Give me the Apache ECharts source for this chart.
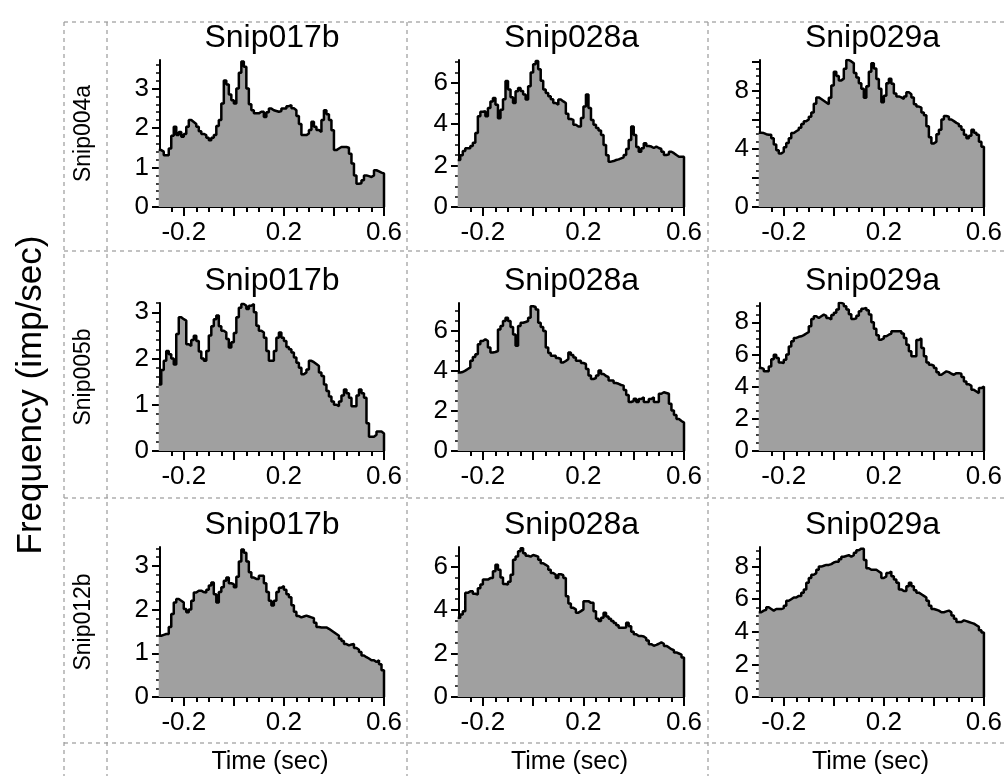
<!DOCTYPE html>
<html>
<head>
<meta charset="utf-8">
<script src="https://cdn.jsdelivr.net/npm/echarts@6/dist/echarts.min.js"></script>
<style>
  html, body { margin: 0; padding: 0; background: #fff; }
  #chart { width: 1005px; height: 776px; }
</style>
</head>
<body>
<div id="chart"></div>
<script>
// Peri-stimulus firing-rate histograms: rows = reference unit, columns = target unit.
const rowUnits = ['Snip004a', 'Snip005b', 'Snip012b'];
const colUnits = ['Snip017b', 'Snip028a', 'Snip029a'];

// Histogram bins (sec): left edge of first bin and bin width
const binStart = -0.3;
const binWidth = 0.01;
const timeMin = -0.295;
const timeMax = 0.6;

// Time axis ticks
const timeLabelTicks = [-0.2, 0.2, 0.6];
const timeMajorTicks = [-0.2, 0, 0.2, 0.4, 0.6];
const timeMinorTicks = [-0.25, -0.15, -0.1, -0.05, 0.05, 0.1, 0.15, 0.25, 0.3, 0.35, 0.45, 0.5, 0.55];

// Firing rates (imp/sec), one value per bin
const rate004a_017b = [1.44,1.4,1.31,1.31,1.48,1.8,2.03,1.82,1.9,1.78,1.85,2.03,2.2,2.15,2.1,2.03,1.92,1.85,1.82,1.75,1.69,1.75,1.82,2.05,2.2,2.62,3.2,3.1,2.85,2.7,2.62,3.0,3.4,3.68,3.55,3.0,2.6,2.45,2.37,2.37,2.41,2.41,2.28,2.4,2.49,2.45,2.43,2.41,2.43,2.49,2.49,2.55,2.58,2.5,2.45,2.3,2.1,1.82,1.82,1.86,1.95,2.16,2.03,1.95,1.9,2.2,2.45,2.35,2.2,1.94,1.44,1.48,1.52,1.52,1.52,1.5,1.35,1.1,0.8,0.59,0.6,0.68,0.8,0.78,0.76,0.8,0.93,0.9,0.87,0.85];
const rate004a_028a = [2.27,2.5,2.7,2.84,2.84,2.95,3.1,3.57,4.38,4.6,4.62,4.38,4.78,5.1,5.27,4.94,4.29,4.7,5.2,6.08,5.67,5.3,5.02,5.59,5.75,5.6,5.43,5.19,5.83,6.5,6.9,7.05,6.65,6.1,5.67,5.51,5.35,5.2,5.02,4.94,5.19,5.1,5.02,4.5,4.25,4.21,3.97,3.89,3.89,4.3,4.86,5.43,4.78,4.2,3.97,3.81,3.7,3.48,3.0,2.5,2.19,2.22,2.27,2.3,2.35,2.4,2.51,2.8,3.24,3.89,3.48,2.9,2.67,2.84,3.08,2.95,2.92,2.85,2.92,2.85,2.8,2.67,2.51,2.55,2.67,2.6,2.51,2.43,2.43,2.43];
const rate004a_029a = [5.1,5.08,5.0,4.96,4.96,4.73,4.3,3.9,3.67,3.8,4.1,4.4,4.73,5.08,5.2,5.31,5.45,5.7,5.9,6.01,6.2,6.5,7.1,7.53,7.42,7.3,7.18,7.06,7.5,8.35,9.29,9.0,8.7,8.82,9.5,10.1,10.0,9.87,9.2,8.9,8.5,8.12,7.5,8.3,9.3,9.87,9.52,8.8,8.12,7.2,7.65,8.5,8.82,8.47,7.8,7.6,7.53,7.42,7.6,7.88,7.75,7.53,7.06,6.9,6.83,6.5,6.3,5.54,4.8,4.37,4.49,5.0,5.31,6.01,6.25,6.2,6.01,5.9,5.78,5.7,5.54,5.3,4.96,4.73,4.9,5.31,5.1,4.96,4.49,4.14];
const rate005b_017b = [1.44,1.75,1.95,2.16,2.09,2.0,1.87,2.53,2.89,2.85,2.82,2.31,2.27,2.4,2.49,2.38,2.15,2.0,1.95,2.16,2.5,2.7,2.85,2.93,2.7,2.6,2.56,2.42,2.24,2.35,2.55,2.89,3.1,3.18,3.14,3.07,3.14,3.18,3.0,2.71,2.6,2.56,2.45,2.16,1.95,1.95,2.16,2.45,2.56,2.45,2.38,2.25,2.2,2.13,2.02,1.91,1.8,1.66,1.7,1.76,1.95,1.92,1.88,1.84,1.7,1.62,1.44,1.3,1.18,1.07,1.0,0.97,1.07,1.2,1.33,1.25,1.15,0.97,0.97,1.2,1.33,1.25,1.15,0.6,0.31,0.31,0.35,0.42,0.42,0.38];
const rate005b_028a = [3.93,3.95,4.02,4.1,4.18,4.51,4.7,4.84,5.34,5.5,5.59,5.5,5.17,4.93,4.95,5.0,6.08,6.25,6.5,6.66,6.5,6.2,5.83,5.26,6.25,6.41,6.45,6.5,6.66,7.24,7.2,7.07,6.41,6.2,6.0,5.17,4.9,4.76,4.76,4.65,4.6,4.43,4.5,4.6,4.93,4.8,4.68,4.51,4.51,4.4,4.35,4.1,3.77,3.6,3.65,3.77,4.02,3.85,3.75,3.69,3.52,3.52,3.4,3.36,3.3,3.27,3.05,2.8,2.45,2.5,2.61,2.45,2.6,2.69,2.45,2.45,2.6,2.69,2.45,2.45,2.86,2.94,2.9,2.86,2.36,2.03,1.8,1.6,1.5,1.42];
const rate005b_029a = [5.16,5.1,4.95,4.95,5.26,5.7,5.99,5.78,5.5,5.47,5.68,6.0,6.5,6.82,7.03,7.1,7.13,7.2,7.3,7.4,7.75,8.2,8.38,8.27,8.38,8.48,8.4,8.27,8.17,8.45,8.6,8.8,9.21,9.15,9.0,8.8,8.5,8.2,8.25,8.4,8.69,8.85,8.9,8.75,8.48,8.0,7.6,7.2,6.92,7.0,7.13,7.23,7.3,7.44,7.44,7.44,7.44,7.3,7.03,6.6,6.2,5.89,5.89,6.9,7.0,6.4,5.89,5.5,5.36,5.3,5.16,4.9,4.74,4.85,4.95,4.9,4.8,4.74,4.84,4.84,4.8,4.6,4.32,4.15,4.05,3.8,3.7,3.6,3.91,4.01];
const rate012b_017b = [1.4,1.42,1.44,1.44,1.6,1.9,2.16,2.24,2.2,2.16,2.01,1.94,2.0,2.2,2.39,2.43,2.43,2.4,2.39,2.45,2.55,2.62,2.35,2.16,2.4,2.51,2.66,2.73,2.6,2.58,2.51,2.75,3.1,3.37,3.3,3.1,2.85,2.73,2.7,2.7,2.77,2.77,2.6,2.4,2.2,2.09,2.2,2.4,2.5,2.54,2.45,2.35,2.28,2.1,1.95,1.85,1.82,1.84,1.86,1.84,1.82,1.8,1.7,1.6,1.59,1.59,1.59,1.56,1.52,1.48,1.44,1.4,1.33,1.28,1.21,1.18,1.2,1.21,1.12,1.08,1.03,0.95,0.91,0.88,0.84,0.84,0.8,0.84,0.75,0.61];
const rate012b_028a = [3.65,3.8,3.95,4.79,4.86,4.86,4.75,4.71,5.0,5.17,5.4,5.4,5.47,5.47,5.78,6.08,5.85,5.5,5.2,5.17,5.3,5.62,6.31,6.46,6.7,6.84,6.61,6.5,6.46,6.53,6.5,6.46,6.31,6.15,6.08,6.0,5.85,5.7,5.62,5.47,5.65,5.6,5.47,4.64,4.3,4.1,4.03,3.88,3.95,4.03,4.41,4.41,4.33,4.33,3.95,3.6,3.5,3.65,3.88,3.7,3.6,3.5,3.4,3.3,3.19,3.19,3.2,3.42,3.25,3.0,2.89,2.81,2.81,2.78,2.7,2.6,2.43,2.36,2.4,2.45,2.51,2.45,2.35,2.28,2.2,2.15,2.05,2.0,1.95,1.82];
const rate012b_029a = [5.2,5.3,5.35,5.5,5.4,5.3,5.4,5.4,5.4,5.45,5.6,5.9,6.0,6.1,6.1,6.2,6.2,6.4,6.6,7.0,7.3,7.5,7.6,7.8,8.0,8.05,8.1,8.1,8.15,8.25,8.3,8.3,8.45,8.6,8.65,8.7,8.6,8.7,8.85,9.0,9.1,9.1,8.4,7.9,7.8,7.8,7.8,7.7,7.6,7.3,7.4,7.6,7.7,7.4,7.2,7.0,6.6,6.5,6.5,6.8,7.0,6.8,6.55,6.4,6.3,6.2,6.1,5.9,5.6,5.4,5.35,5.3,5.2,5.2,5.25,5.3,5.2,5.0,4.8,4.6,4.6,4.7,4.65,4.6,4.55,4.5,4.4,4.3,4.1,3.95];

const rates = [
  [rate004a_017b, rate004a_028a, rate004a_029a],
  [rate005b_017b, rate005b_028a, rate005b_029a],
  [rate012b_017b, rate012b_028a, rate012b_029a]
];

// Rate axis: top of axis, labelled ticks, major and minor tick steps
const rateMax = [[3.72, 7.1, 10.1], [3.2, 7.4, 9.2], [3.43, 6.9, 9.2]];
const rateLabels = [
  [[0, 1, 2, 3], [0, 2, 4, 6], [0, 4, 8]],
  [[0, 1, 2, 3], [0, 2, 4, 6], [0, 2, 4, 6, 8]],
  [[0, 1, 2, 3], [0, 2, 4, 6], [0, 2, 4, 6, 8]]
];
const rateMajorStep = [[1, 2, 2], [1, 2, 2], [1, 2, 2]];
const rateMinorStep = [[0.2, 0.5, 0.5], [0.2, 0.5, 0.5], [0.2, 0.5, 0.5]];

// Panel layout (px)
const colLeft = [160, 459, 760];
const colWidth = [224, 225, 225];
const rowTop = [60, 303, 547];
const rowHeight = [147, 148, 150];

const FONT = "'Liberation Sans', Arial, sans-serif";
const INK = '#000';

function steps(max, step) {
  const out = [];
  for (let k = 0; k * step <= max + 1e-9; k++) out.push(+(k * step).toFixed(4));
  return out;
}

const grids = [], xAxes = [], yAxes = [], series = [], graphics = [];

for (let r = 0; r < 3; r++) {
  for (let c = 0; c < 3; c++) {
    const g = grids.length;
    grids.push({ left: colLeft[c], top: rowTop[r], width: colWidth[c], height: rowHeight[r] });

    // Time axis: labelled/major ticks
    xAxes.push({
      gridIndex: g, type: 'value', position: 'bottom', min: timeMin, max: timeMax,
      axisLine: { show: true, onZero: false, lineStyle: { color: '#000', width: 2 } },
      axisTick: { show: true, length: 9, customValues: timeMajorTicks, lineStyle: { color: '#000', width: 2 } },
      axisLabel: { customValues: timeLabelTicks, margin: 13, fontSize: 26, fontFamily: FONT, color: INK },
      splitLine: { show: false }
    });
    // Time axis: minor ticks
    xAxes.push({
      gridIndex: g, type: 'value', position: 'bottom', min: timeMin, max: timeMax,
      axisLine: { show: false, onZero: false },
      axisTick: { show: true, length: 5, customValues: timeMinorTicks, lineStyle: { color: '#000', width: 2 } },
      axisLabel: { show: false },
      splitLine: { show: false }
    });

    const ymax = rateMax[r][c];
    yAxes.push({
      gridIndex: g, type: 'value', position: 'left', min: 0, max: ymax,
      axisLine: { show: true, onZero: false, lineStyle: { color: '#000', width: 2 } },
      axisTick: { show: true, length: 8, customValues: steps(ymax, rateMajorStep[r][c]), lineStyle: { color: '#000', width: 2 } },
      axisLabel: { customValues: rateLabels[r][c], margin: 11, fontSize: 26, fontFamily: FONT, color: INK },
      splitLine: { show: false }
    });
    yAxes.push({
      gridIndex: g, type: 'value', position: 'left', min: 0, max: ymax,
      axisLine: { show: false, onZero: false },
      axisTick: { show: true, length: 4, customValues: steps(ymax, rateMinorStep[r][c]), lineStyle: { color: '#000', width: 1.5 } },
      axisLabel: { show: false },
      splitLine: { show: false }
    });

    const data = rates[r][c].map((v, i) => [binStart + i * binWidth, v]);
    data.push([timeMax, 0]);
    series.push({
      type: 'line', step: 'end', xAxisIndex: 2 * g, yAxisIndex: 2 * g,
      data: data, symbol: 'none', clip: true, silent: true,
      lineStyle: { color: '#000', width: 2.5 },
      areaStyle: { color: '#a0a0a0', opacity: 1 }
    });

    // panel title
    graphics.push({
      type: 'text', x: colLeft[c] + colWidth[c] / 2, y: rowTop[r] - 22,
      style: { text: colUnits[c], fontSize: 32, fontFamily: FONT, fill: INK, align: 'center', verticalAlign: 'middle' }
    });
  }
}

// Dashed cell borders
const dash = { stroke: '#9a9a9a', lineWidth: 1.2, lineDash: [4, 4] };
[22, 251, 498, 743].forEach(y => graphics.push({ type: 'line', shape: { x1: 64, y1: y, x2: 1005, y2: y }, style: dash, silent: true }));
[64, 107, 407, 708].forEach(x => graphics.push({ type: 'line', shape: { x1: x, y1: 22, x2: x, y2: 776 }, style: dash, silent: true }));

// Row labels (reference units)
rowUnits.forEach((name, r) => graphics.push({
  type: 'text', x: 84, y: rowTop[r] + rowHeight[r] / 2, rotation: Math.PI / 2,
  style: { text: name, fontSize: 23, fontFamily: FONT, fill: INK, align: 'center', verticalAlign: 'middle' }
}));

// Column axis titles
colUnits.forEach((_, c) => graphics.push({
  type: 'text', x: colLeft[c] + colWidth[c] / 2 - 2, y: 762,
  style: { text: 'Time (sec)', fontSize: 25, fontFamily: FONT, fill: INK, align: 'center', verticalAlign: 'middle' }
}));

// Shared rate axis title
graphics.push({
  type: 'text', x: 31, y: 395, rotation: Math.PI / 2,
  style: { text: 'Frequency (imp/sec)', fontSize: 35, fontFamily: FONT, fill: INK, align: 'center', verticalAlign: 'middle' }
});

const chart = echarts.init(document.getElementById('chart'), null, { renderer: 'canvas' });
chart.setOption({
  animation: false,
  backgroundColor: '#fff',
  grid: grids,
  xAxis: xAxes,
  yAxis: yAxes,
  series: series,
  graphic: graphics
});
</script>
</body>
</html>
